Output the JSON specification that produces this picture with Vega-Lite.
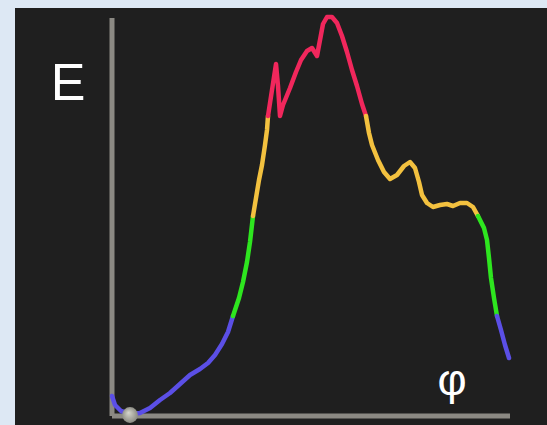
{
  "$schema": "https://vega.github.io/schema/vega-lite/v6.json",
  "width": 547,
  "height": 425,
  "autosize": {"type": "fit", "contains": "padding"},
  "padding": {"left": 15, "top": 8, "right": 0, "bottom": 0},
  "background": "#dde8f4",
  "config": {"view": {"fill": "#1f1f1f", "stroke": null}},
  "datasets": {
    "axes": [
      {"phi": 0, "E": 0, "phi2": 0, "E2": 3.98},
      {"phi": 0, "E": 0, "phi2": 3.98, "E2": 0}
    ],
    "curve": [
      {"seg": 1, "band": "blue", "phi": 0.0, "E": 0.20},
      {"seg": 1, "band": "blue", "phi": 0.03, "E": 0.11},
      {"seg": 1, "band": "blue", "phi": 0.09, "E": 0.05},
      {"seg": 1, "band": "blue", "phi": 0.18, "E": 0.02},
      {"seg": 1, "band": "blue", "phi": 0.28, "E": 0.03},
      {"seg": 1, "band": "blue", "phi": 0.38, "E": 0.08},
      {"seg": 1, "band": "blue", "phi": 0.48, "E": 0.16},
      {"seg": 1, "band": "blue", "phi": 0.58, "E": 0.23},
      {"seg": 1, "band": "blue", "phi": 0.68, "E": 0.32},
      {"seg": 1, "band": "blue", "phi": 0.78, "E": 0.41},
      {"seg": 1, "band": "blue", "phi": 0.88, "E": 0.47},
      {"seg": 1, "band": "blue", "phi": 0.96, "E": 0.53},
      {"seg": 1, "band": "blue", "phi": 1.03, "E": 0.61},
      {"seg": 1, "band": "blue", "phi": 1.10, "E": 0.72},
      {"seg": 1, "band": "blue", "phi": 1.16, "E": 0.84},
      {"seg": 1, "band": "blue", "phi": 1.21, "E": 1.00},
      {"seg": 2, "band": "green", "phi": 1.21, "E": 1.00},
      {"seg": 2, "band": "green", "phi": 1.27, "E": 1.18},
      {"seg": 2, "band": "green", "phi": 1.31, "E": 1.34},
      {"seg": 2, "band": "green", "phi": 1.35, "E": 1.54},
      {"seg": 2, "band": "green", "phi": 1.38, "E": 1.74},
      {"seg": 2, "band": "green", "phi": 1.41, "E": 2.00},
      {"seg": 3, "band": "yellow", "phi": 1.41, "E": 2.00},
      {"seg": 3, "band": "yellow", "phi": 1.44, "E": 2.18},
      {"seg": 3, "band": "yellow", "phi": 1.47, "E": 2.36},
      {"seg": 3, "band": "yellow", "phi": 1.50, "E": 2.51},
      {"seg": 3, "band": "yellow", "phi": 1.53, "E": 2.71},
      {"seg": 3, "band": "yellow", "phi": 1.55, "E": 2.86},
      {"seg": 3, "band": "yellow", "phi": 1.56, "E": 3.00},
      {"seg": 4, "band": "red", "phi": 1.56, "E": 3.00},
      {"seg": 4, "band": "red", "phi": 1.60, "E": 3.26},
      {"seg": 4, "band": "red", "phi": 1.64, "E": 3.52},
      {"seg": 4, "band": "red", "phi": 1.66, "E": 3.30},
      {"seg": 4, "band": "red", "phi": 1.68, "E": 3.00},
      {"seg": 4, "band": "red", "phi": 1.71, "E": 3.11},
      {"seg": 4, "band": "red", "phi": 1.78, "E": 3.28},
      {"seg": 4, "band": "red", "phi": 1.84, "E": 3.44},
      {"seg": 4, "band": "red", "phi": 1.89, "E": 3.56},
      {"seg": 4, "band": "red", "phi": 1.95, "E": 3.65},
      {"seg": 4, "band": "red", "phi": 2.00, "E": 3.68},
      {"seg": 4, "band": "red", "phi": 2.05, "E": 3.60},
      {"seg": 4, "band": "red", "phi": 2.08, "E": 3.76},
      {"seg": 4, "band": "red", "phi": 2.11, "E": 3.92},
      {"seg": 4, "band": "red", "phi": 2.15, "E": 3.99},
      {"seg": 4, "band": "red", "phi": 2.20, "E": 3.99},
      {"seg": 4, "band": "red", "phi": 2.25, "E": 3.93},
      {"seg": 4, "band": "red", "phi": 2.30, "E": 3.80},
      {"seg": 4, "band": "red", "phi": 2.35, "E": 3.64},
      {"seg": 4, "band": "red", "phi": 2.40, "E": 3.46},
      {"seg": 4, "band": "red", "phi": 2.45, "E": 3.30},
      {"seg": 4, "band": "red", "phi": 2.50, "E": 3.12},
      {"seg": 4, "band": "red", "phi": 2.54, "E": 3.00},
      {"seg": 5, "band": "yellow", "phi": 2.54, "E": 3.00},
      {"seg": 5, "band": "yellow", "phi": 2.57, "E": 2.83},
      {"seg": 5, "band": "yellow", "phi": 2.60, "E": 2.71},
      {"seg": 5, "band": "yellow", "phi": 2.66, "E": 2.56},
      {"seg": 5, "band": "yellow", "phi": 2.72, "E": 2.44},
      {"seg": 5, "band": "yellow", "phi": 2.78, "E": 2.37},
      {"seg": 5, "band": "yellow", "phi": 2.85, "E": 2.41},
      {"seg": 5, "band": "yellow", "phi": 2.92, "E": 2.50},
      {"seg": 5, "band": "yellow", "phi": 2.98, "E": 2.54},
      {"seg": 5, "band": "yellow", "phi": 3.03, "E": 2.48},
      {"seg": 5, "band": "yellow", "phi": 3.07, "E": 2.34},
      {"seg": 5, "band": "yellow", "phi": 3.10, "E": 2.21},
      {"seg": 5, "band": "yellow", "phi": 3.15, "E": 2.13},
      {"seg": 5, "band": "yellow", "phi": 3.21, "E": 2.09},
      {"seg": 5, "band": "yellow", "phi": 3.28, "E": 2.11},
      {"seg": 5, "band": "yellow", "phi": 3.35, "E": 2.12},
      {"seg": 5, "band": "yellow", "phi": 3.41, "E": 2.10},
      {"seg": 5, "band": "yellow", "phi": 3.48, "E": 2.13},
      {"seg": 5, "band": "yellow", "phi": 3.55, "E": 2.13},
      {"seg": 5, "band": "yellow", "phi": 3.61, "E": 2.09},
      {"seg": 5, "band": "yellow", "phi": 3.66, "E": 2.00},
      {"seg": 6, "band": "green", "phi": 3.66, "E": 2.00},
      {"seg": 6, "band": "green", "phi": 3.72, "E": 1.88},
      {"seg": 6, "band": "green", "phi": 3.75, "E": 1.76},
      {"seg": 6, "band": "green", "phi": 3.77, "E": 1.58},
      {"seg": 6, "band": "green", "phi": 3.79, "E": 1.38},
      {"seg": 6, "band": "green", "phi": 3.82, "E": 1.18},
      {"seg": 6, "band": "green", "phi": 3.85, "E": 1.00},
      {"seg": 7, "band": "blue", "phi": 3.85, "E": 1.00},
      {"seg": 7, "band": "blue", "phi": 3.89, "E": 0.86},
      {"seg": 7, "band": "blue", "phi": 3.93, "E": 0.71},
      {"seg": 7, "band": "blue", "phi": 3.97, "E": 0.58}
    ],
    "ball": [{"phi": 0.18, "E": 0.01}],
    "labels": [
      {"phi": -0.44, "E": 3.32, "text": "E", "size": 52},
      {"phi": 3.40, "E": 0.35, "text": "φ", "size": 45}
    ]
  },
  "encoding": {
    "x": {"field": "phi", "type": "quantitative", "axis": null,
          "scale": {"domain": [-0.97, 4.35], "nice": false, "zero": false}},
    "y": {"field": "E", "type": "quantitative", "axis": null,
          "scale": {"domain": [-0.09, 4.08], "nice": false, "zero": false}}
  },
  "layer": [
    {
      "data": {"name": "axes"},
      "mark": {"type": "rule", "color": "#8b8983", "strokeWidth": 5},
      "encoding": {
        "x2": {"field": "phi2"},
        "y2": {"field": "E2"}
      }
    },
    {
      "data": {"name": "curve"},
      "mark": {"type": "line", "strokeWidth": 4.5, "strokeCap": "round", "strokeJoin": "round"},
      "encoding": {
        "detail": {"field": "seg", "type": "nominal"},
        "color": {"field": "band", "type": "nominal", "legend": null,
                  "scale": {"domain": ["blue", "green", "yellow", "red"],
                            "range": ["#5b4fe6", "#2ee61f", "#f3c13f", "#f1275c"]}}
      }
    },
    {
      "data": {"name": "ball"},
      "mark": {"type": "circle", "size": 250, "opacity": 1,
               "color": {"gradient": "radial", "x1": 0.4, "y1": 0.35, "r1": 0, "x2": 0.5, "y2": 0.5, "r2": 0.55,
                         "stops": [{"offset": 0, "color": "#d6d6cc"}, {"offset": 1, "color": "#85857d"}]}}
    },
    {
      "data": {"name": "labels"},
      "mark": {"type": "text", "color": "#ffffff", "font": "Liberation Sans", "baseline": "middle", "align": "center"},
      "encoding": {
        "text": {"field": "text"},
        "size": {"field": "size", "type": "quantitative", "scale": null}
      }
    }
  ]
}
